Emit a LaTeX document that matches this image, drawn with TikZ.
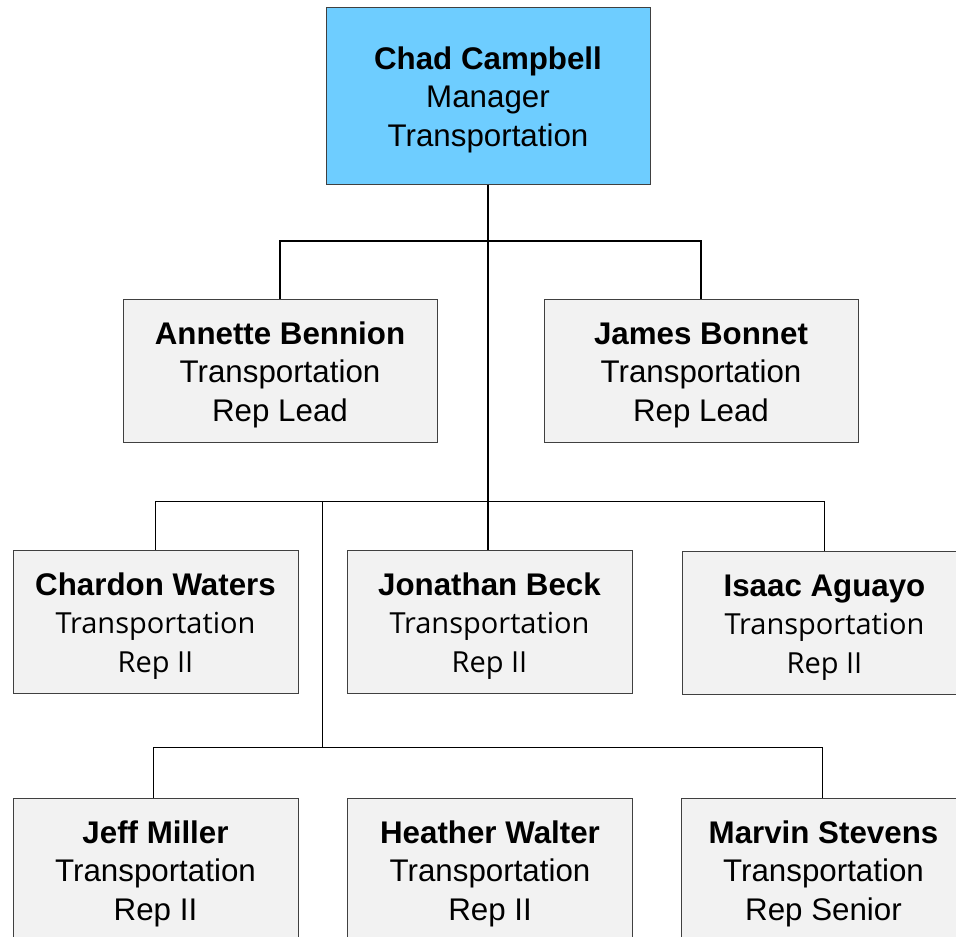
\documentclass[tikz,border=0pt]{standalone}
\usepackage{fontspec}
\setmainfont{Liberation Sans}
\newfontfamily\segfont{Open Sans}
\newcommand{\seg}{\segfont\fontsize{29}{38.5}\selectfont}
\newcommand{\topstrut}{\rule{0pt}{31pt}}
\definecolor{topblue}{RGB}{110,205,255}
\definecolor{boxgray}{RGB}{242,242,242}
\definecolor{edgegray}{RGB}{64,64,64}
\begin{document}
\begin{tikzpicture}[x=1pt,y=-1pt,
  card/.style={draw=edgegray, line width=1pt, fill=boxgray, align=center, inner sep=0pt,
    minimum width=285pt, minimum height=143pt, font=\fontsize{31.3}{38.5}\selectfont},
  link/.style={draw=black, line width=1.3pt}]
\useasboundingbox (0,0) rectangle (956,937);
\clip (0,0) rectangle (956,937);
\node[card, fill=topblue, minimum width=324pt, minimum height=177pt] (chad) at (488,95.5)
  {\topstrut\bfseries Chad Campbell\\Manager\\Transportation};
\node[card, minimum width=314pt] (annette) at (280,370.5)
  {\topstrut\bfseries Annette Bennion\\Transportation\\Rep Lead};
\node[card, minimum width=314pt] (james) at (701,370.5)
  {\topstrut\bfseries James Bonnet\\Transportation\\Rep Lead};
\node[card] (chardon) at (155.5,621.5)
  {\topstrut\bfseries Chardon Waters\\{\seg Transportation}\\{\seg Rep II}};
\node[card] (jonathan) at (489.5,621.5)
  {\topstrut\bfseries Jonathan Beck\\{\seg Transportation}\\{\seg Rep II}};
\node[card] (isaac) at (824.5,622.5)
  {\topstrut\bfseries Isaac Aguayo\\{\seg Transportation}\\{\seg Rep II}};
\node[card] (jeff) at (155.5,869.5)
  {\topstrut\bfseries Jeff Miller\\Transportation\\Rep II};
\node[card] (heather) at (490,869.5)
  {\topstrut\bfseries Heather Walter\\Transportation\\Rep II};
\node[card] (marvin) at (823.5,869.5)
  {\topstrut\bfseries Marvin Stevens\\Transportation\\Rep Senior};
\coordinate (j1) at (488,241);
\coordinate (j2) at (488,501.5);
\coordinate (j3) at (322.5,501.5);
\coordinate (j4) at (322.5,747.5);
\coordinate (jeffin) at (153.5,747.5);
\coordinate (marvin in) at (822.5,747.5);
\draw[link] (chad.south) -- (j2);
\draw[link] (annette.north) -- (annette.north |- j1) -- (james.north |- j1) -- (james.north);
\draw[link] (chardon.north) -- (chardon.north |- j2) -- (isaac.north |- j2) -- (isaac.north);
\draw[link] (j2) -- (j2 |- jonathan.north);
\draw[link] (j3) -- (j4);
\draw[link] (jeffin |- jeff.north) -- (jeffin) -- (marvin in) -- (marvin in |- marvin.north);
\end{tikzpicture}
\end{document}
